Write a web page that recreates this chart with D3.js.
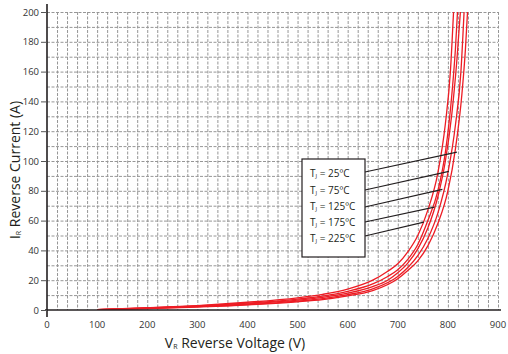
<!DOCTYPE html>
<html>
<head>
<meta charset="utf-8">
<script src="https://cdn.jsdelivr.net/npm/d3@7"></script>
<style>
  body { margin: 0; background: #fff; }
  svg { font-family: "Open Sans", sans-serif; }
</style>
</head>
<body>
<div id="chart"></div>
<script>
// reverse characteristic, [V, A] points
const curve25 = [[100, 0.2], [200, 0.9], [300, 2.0], [400, 3.4], [500, 5.5], [550, 7.0], [600, 9.5], [650, 13], [700, 21], [720, 26.5], [740, 33], [760, 43], [780, 58], [800, 80], [815, 108], [828, 145], [835, 175], [840, 205]];
const curve75 = [[100, 0.2], [200, 1.0], [300, 2.2], [400, 3.7], [500, 6.0], [550, 7.7], [600, 10.3], [650, 14.2], [700, 22.5], [720, 28.5], [740, 36.5], [760, 48], [780, 65], [800, 92], [815, 124], [826, 160], [833, 205]];
const curve125 = [[100, 0.3], [200, 1.2], [300, 2.5], [400, 4.1], [500, 6.6], [550, 8.5], [600, 11.3], [650, 15.7], [680, 20], [700, 25], [720, 31.5], [740, 41], [760, 55], [780, 76], [795, 100], [808, 132], [818, 168], [826, 205]];
const curve175 = [[100, 0.3], [200, 1.4], [300, 2.8], [400, 4.6], [500, 7.3], [550, 9.3], [600, 12.5], [650, 17.5], [680, 22.5], [700, 27], [720, 34], [740, 44], [760, 60], [780, 80], [795, 106], [808, 145], [815, 175], [820, 205]];
const curve225 = [[100, 0.3], [200, 1.6], [300, 3.0], [400, 5.2], [500, 8.2], [550, 10.5], [600, 14], [650, 20], [680, 26], [700, 31], [720, 39], [740, 50], [760, 67], [780, 92], [795, 125], [805, 160], [812, 205]];

const legendLabels = ["25", "75", "125", "175", "225"];
// where each leader line touches its curve [V, A]
const leaderEnds = [[818, 106], [802, 93], [789, 81], [773, 69], [752, 59]];

const xTicks = [0, 100, 200, 300, 400, 500, 600, 700, 800, 900];
const yTicks = [0, 20, 40, 60, 80, 100, 120, 140, 160, 180, 200];

const W = 508, H = 354;
const plotL = 47, plotT = 12, plotR = 498, plotB = 310;

const svg = d3.select("#chart").append("svg")
  .attr("width", W)
  .attr("height", H);

const x = d3.scaleLinear().domain([0, 900]).range([plotL, plotR]);
const y = d3.scaleLinear().domain([0, 200]).range([plotB, plotT]);

svg.append("defs").append("clipPath").attr("id", "plot")
  .append("rect")
  .attr("x", plotL).attr("y", plotT)
  .attr("width", plotR - plotL).attr("height", plotB - plotT);

// dashed grid, 20 V by 10 A
const grid = svg.append("g")
  .attr("stroke", "#969696")
  .attr("stroke-width", 1)
  .attr("stroke-dasharray", "3,1.5");

grid.selectAll(".gx")
  .data(d3.range(20, 901, 20))
  .enter().append("line")
  .attr("x1", d => x(d) + 0.5).attr("x2", d => x(d) + 0.5)
  .attr("y1", plotT).attr("y2", plotB);

grid.selectAll(".gy")
  .data(d3.range(10, 201, 10))
  .enter().append("line")
  .attr("y1", d => y(d) + 0.5).attr("y2", d => y(d) + 0.5)
  .attr("x1", plotL).attr("x2", plotR);

// curves
const line = d3.line()
  .x(d => x(d[0]))
  .y(d => y(d[1]))
  .curve(d3.curveMonotoneX);

svg.append("g")
  .attr("clip-path", "url(#plot)")
  .selectAll("path")
  .data([curve25, curve75, curve125, curve175, curve225])
  .enter().append("path")
  .attr("d", line)
  .attr("fill", "none")
  .attr("stroke", "#ed1c24")
  .attr("stroke-width", 1.3);

// axes
svg.append("line")
  .attr("x1", plotL).attr("x2", plotL)
  .attr("y1", 4).attr("y2", 317)
  .attr("stroke", "#231f20").attr("stroke-width", 1.6);

svg.append("line")
  .attr("x1", plotL - 2).attr("x2", plotR + 3)
  .attr("y1", plotB).attr("y2", plotB)
  .attr("stroke", "#231f20").attr("stroke-width", 1.6);

svg.selectAll(".ytick")
  .data(yTicks)
  .enter().append("line")
  .attr("x1", plotL - 6).attr("x2", plotL)
  .attr("y1", d => y(d) + 0.5).attr("y2", d => y(d) + 0.5)
  .attr("stroke", "#555").attr("stroke-width", 1);

svg.selectAll(".ylab")
  .data(yTicks)
  .enter().append("text")
  .attr("x", plotL - 8)
  .attr("y", d => y(d) + 3.5)
  .attr("text-anchor", "end")
  .attr("font-size", 9.5)
  .attr("fill", "#333")
  .text(d => d);

svg.selectAll(".xlab")
  .data(xTicks)
  .enter().append("text")
  .attr("x", d => x(d))
  .attr("y", 328)
  .attr("text-anchor", "middle")
  .attr("font-size", 9.5)
  .attr("fill", "#333")
  .text(d => d);

// axis titles
const xt = svg.append("text")
  .attr("x", 235)
  .attr("y", 348)
  .attr("text-anchor", "middle")
  .attr("font-size", 14)
  .attr("fill", "#231f20");
xt.append("tspan").text("V");
xt.append("tspan").attr("font-size", 7).attr("dy", 1).text("R");
xt.append("tspan").attr("dy", -1).text(" Reverse Voltage (V)");

const yt = svg.append("text")
  .attr("transform", "translate(20,170) rotate(-90)")
  .attr("text-anchor", "middle")
  .attr("font-size", 14)
  .attr("fill", "#231f20");
yt.append("tspan").text("I");
yt.append("tspan").attr("font-size", 7).attr("dy", 1).text("R");
yt.append("tspan").attr("dy", -1).text(" Reverse Current (A)");

// legend box with leader lines
const boxX = 302, boxY = 159, boxW = 63, boxH = 98;
const rowY = [177, 194, 210, 226, 242];
const leaderY = [172, 190, 207, 222, 236];

svg.append("g")
  .selectAll("line")
  .data(leaderEnds)
  .enter().append("line")
  .attr("x1", boxX + boxW)
  .attr("y1", (d, i) => leaderY[i])
  .attr("x2", d => x(d[0]))
  .attr("y2", d => y(d[1]))
  .attr("stroke", "#231f20")
  .attr("stroke-width", 1.2);

svg.append("rect")
  .attr("x", boxX).attr("y", boxY)
  .attr("width", boxW).attr("height", boxH)
  .attr("fill", "#fff")
  .attr("stroke", "#231f20")
  .attr("stroke-width", 1.2);

legendLabels.forEach((t, i) => {
  const tx = svg.append("text")
    .attr("x", boxX + 8)
    .attr("y", rowY[i])
    .attr("font-size", 10)
    .attr("fill", "#231f20");
  tx.append("tspan").text("T");
  tx.append("tspan").attr("font-size", 6).attr("dy", 1).text("J");
  tx.append("tspan").attr("dy", -1).text(" = " + t + "ºC");
});
</script>
</body>
</html>
